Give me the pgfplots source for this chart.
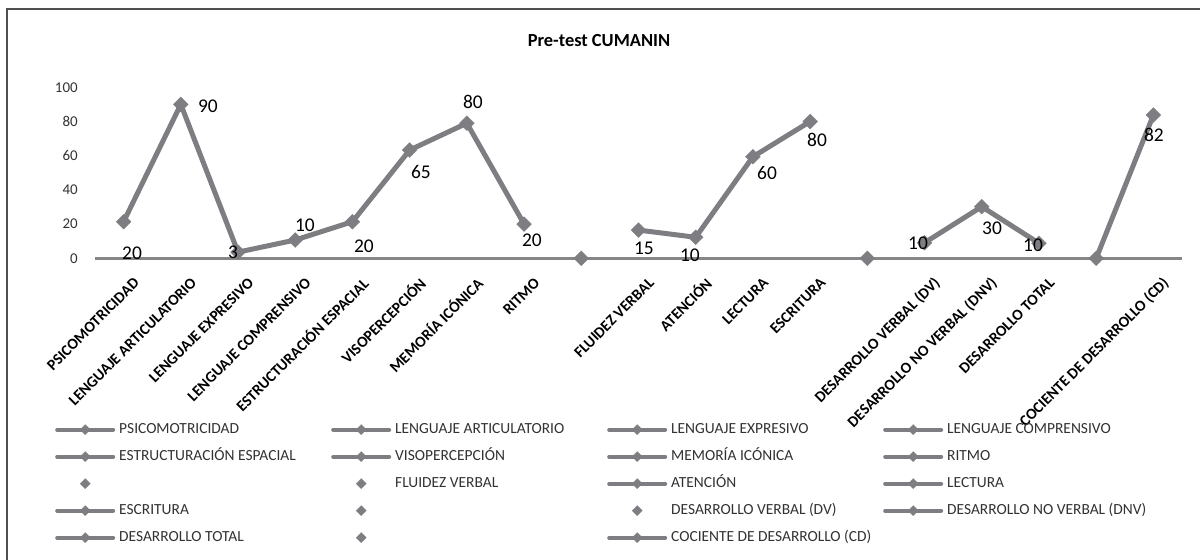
\documentclass[border=0pt]{standalone}
\usepackage{fontspec}
\setmainfont{Carlito}
\usepackage{pgfplots}
\pgfplotsset{compat=1.18}
\definecolor{sgray}{RGB}{126,126,130}
\definecolor{agray}{RGB}{134,134,136}
\definecolor{fgray}{RGB}{80,80,80}
\definecolor{txt}{RGB}{50,50,50}
\begin{document}
\begin{tikzpicture}
\begin{axis}[
  name=ax,
  scale only axis,
  width=1087bp, height=171bp,
  xmin=-0.5, xmax=18.5, ymin=0, ymax=100,
  axis x line=bottom, axis y line=left,
  x axis line style={-, line width=3bp, color=agray},
  y axis line style={draw=none},
  tick style={draw=none},
  ytick={0,20,...,100},
  /pgf/number format/assume math mode=true,
  yticklabel style={font=\fontsize{15}{17}\selectfont, text=txt, anchor=east, inner sep=0pt, xshift=-15bp},
  xtick={0,1,2,3,4,5,6,7,9,10,11,12,14,15,16,18},
  xticklabels={PSICOMOTRICIDAD,LENGUAJE ARTICULATORIO,LENGUAJE EXPRESIVO,LENGUAJE COMPRENSIVO,ESTRUCTURACIÓN ESPACIAL,VISOPERCEPCIÓN,MEMORÍA ICÓNICA,RITMO,FLUIDEZ VERBAL,ATENCIÓN,LECTURA,ESCRITURA,DESARROLLO VERBAL (DV),DESARROLLO NO VERBAL (DNV),DESARROLLO TOTAL,COCIENTE DE DESARROLLO (CD)},
  xticklabel style={font=\bfseries\fontsize{15.5}{17}\selectfont, text=black, inner sep=0pt, xshift=13bp, yshift=-20bp, rotate=45, anchor=east},
  title={Pre-test CUMANIN},
  title style={font=\bfseries\fontsize{18.5}{20}\selectfont, at={(0.4637,1.206)}, anchor=base},
  legend columns=4,
  legend image code/.code={\draw[mark repeat=2,mark phase=2,#1] plot coordinates {(0bp,0bp) (28bp,0bp) (56bp,0bp)};},
  legend style={at={(-0.0368,-0.957)}, anchor=north west, draw=none, fill=none, inner sep=0pt,
    font=\fontsize{15.5}{17}\selectfont, text=txt, row sep=12bp, column sep=0bp,
    nodes={text width=208bp, align=flush left, inner xsep=4bp, inner ysep=0pt, text height=11bp, text depth=4bp}},
  lgl/.style={line width=4bp, color=sgray, line cap=round, mark=square*, mark size=3.6bp, mark options={rotate=45, line width=0.2bp}},
  lgm/.style={only marks, color=sgray, mark=square*, mark size=3.6bp, mark options={rotate=45, line width=0.2bp}},
  dat/.style={line width=5bp, color=sgray, line join=round, mark=square*, mark size=5.3bp, mark options={rotate=45, line width=0.2bp}},
]
% data series
\addplot[dat, forget plot] coordinates {(0,21.4) (1,90) (2,3.6) (3,10.7) (4,21.4) (5,63.3) (6,79) (7,20)};
\addplot[dat, forget plot] coordinates {(8,0)};
\addplot[dat, forget plot] coordinates {(9,16.5) (10,12.3) (11,59.4) (12,80)};
\addplot[dat, forget plot] coordinates {(13,0)};
\addplot[dat, forget plot] coordinates {(14,9.1) (15,30.2) (16,8.8)};
\addplot[dat, forget plot] coordinates {(17,0) (18,83.8)};
% data labels
\addplot[draw=none, mark=none, forget plot, point meta=explicit symbolic,
  nodes near coords, nodes near coords style={anchor=center, inner sep=0pt, font=\fontsize{19.5}{21}\selectfont, text=black}]
  table[meta=lab] {
x y lab
0.147 3.1 20
1.475 89.0 90
1.912 3.7 3
3.17 19.1 10
4.20 7.2 20
5.198 50.5 65
6.107 91.4 80
7.138 10.7 20
8.52 -0.4 0
9.096 6.0 15
9.90 1.9 10
11.246 49.6 60
12.12 69.2 80
13.52 -0.4 0
13.886 8.95 10
15.18 17.6 30
15.896 7.8 10
17.54 -0.4 0
18.01 72.1 82
};
% legend
\addlegendimage{lgl}\addlegendentry{PSICOMOTRICIDAD}
\addlegendimage{lgl}\addlegendentry{LENGUAJE ARTICULATORIO}
\addlegendimage{lgl}\addlegendentry{LENGUAJE EXPRESIVO}
\addlegendimage{lgl}\addlegendentry{LENGUAJE COMPRENSIVO}
\addlegendimage{lgl}\addlegendentry{ESTRUCTURACIÓN ESPACIAL}
\addlegendimage{lgl}\addlegendentry{VISOPERCEPCIÓN}
\addlegendimage{lgl}\addlegendentry{MEMORÍA ICÓNICA}
\addlegendimage{lgl}\addlegendentry{RITMO}
\addlegendimage{lgm}\addlegendentry{}
\addlegendimage{lgm}\addlegendentry{FLUIDEZ VERBAL}
\addlegendimage{lgl}\addlegendentry{ATENCIÓN}
\addlegendimage{lgl}\addlegendentry{LECTURA}
\addlegendimage{lgl}\addlegendentry{ESCRITURA}
\addlegendimage{lgm}\addlegendentry{}
\addlegendimage{lgm}\addlegendentry{DESARROLLO VERBAL (DV)}
\addlegendimage{lgl}\addlegendentry{DESARROLLO NO VERBAL (DNV)}
\addlegendimage{lgl}\addlegendentry{DESARROLLO TOTAL}
\addlegendimage{lgm}\addlegendentry{}
\addlegendimage{lgl}\addlegendentry{COCIENTE DE DESARROLLO (CD)}
\end{axis}
\coordinate (O) at ([shift={(-95bp,258.3bp)}]ax.south west);
\draw[fgray, line width=2bp] ([shift={(7.5bp,-560bp)}]O) -- ([shift={(7.5bp,-9bp)}]O) -- ([shift={(1200bp,-9bp)}]O);
\pgfresetboundingbox
\path[use as bounding box] ([shift={(0bp,-560bp)}]O) rectangle ([shift={(1200bp,0bp)}]O);
\end{tikzpicture}
\end{document}
